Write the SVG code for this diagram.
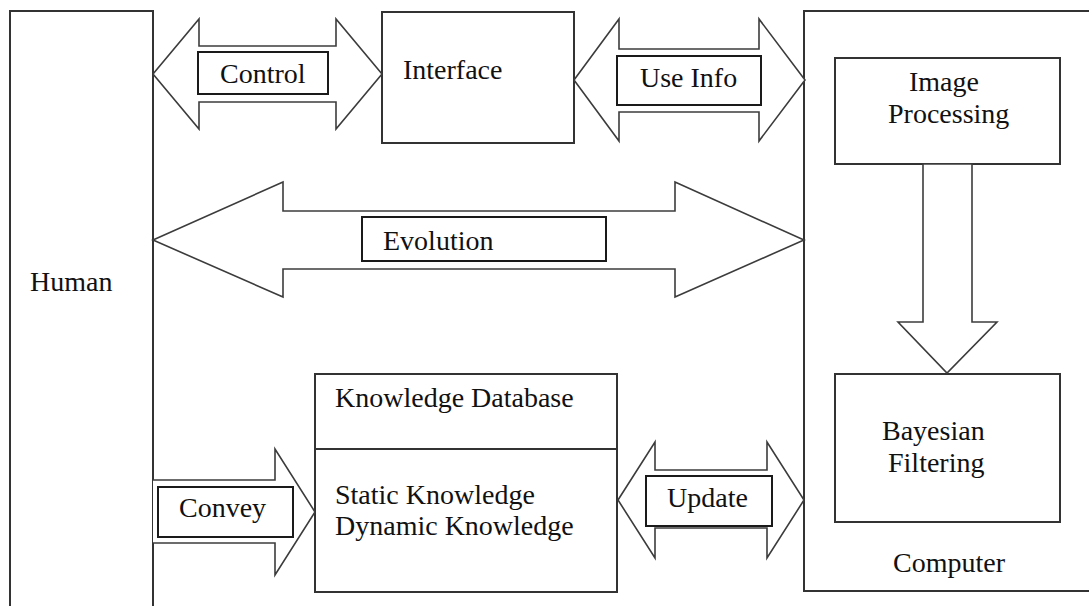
<svg xmlns="http://www.w3.org/2000/svg" width="1089" height="606" viewBox="0 0 1089 606">
  <style>
    .box { fill: #ffffff; stroke: #333333; stroke-width: 2; }
    .arrow { fill: #ffffff; stroke: #3c3c3c; stroke-width: 1.6; stroke-linejoin: miter; }
    .tag { fill: #ffffff; stroke: #1a1a1a; stroke-width: 2; }
    text { font-size: 28px; fill: #111111; }
  </style>

  <rect x="0" y="0" width="1089" height="606" fill="#ffffff"/>

  <g font-family="Liberation Serif, DejaVu Serif, serif">
  <!-- Human -->
  <g id="human">
    <rect class="box" x="10" y="11" width="143" height="610"/>
    <text x="30" y="291">Human</text>
  </g>

  <!-- Interface -->
  <g id="interface">
    <rect class="box" x="382" y="12" width="192" height="131"/>
    <text x="403" y="79">Interface</text>
  </g>

  <!-- Computer with its inner blocks -->
  <g id="computer">
    <rect class="box" x="804" y="11" width="292" height="580"/>
    <text x="893" y="572">Computer</text>
  </g>

  <g id="image-processing">
    <rect class="box" x="835" y="58" width="225" height="106"/>
    <text x="909" y="91">Image</text>
    <text x="888" y="123">Processing</text>
  </g>

  <g id="bayesian-filtering">
    <rect class="box" x="835" y="374" width="225" height="148"/>
    <text x="882" y="440">Bayesian</text>
    <text x="888" y="472">Filtering</text>
  </g>

  <!-- Knowledge database -->
  <g id="knowledge-database">
    <rect class="box" x="315" y="374" width="302" height="218"/>
    <line x1="315" y1="449" x2="617" y2="449" stroke="#333333" stroke-width="2"/>
    <text x="335" y="407">Knowledge Database</text>
    <text x="335" y="504">Static Knowledge</text>
    <text x="335" y="535">Dynamic Knowledge</text>
  </g>

  <!-- Block-arrow connectors and their labels -->
  <g id="connectors">
    <!-- Control: Human <-> Interface -->
    <path class="arrow" d="M153,74 L199,19 L199,46 L336,46 L336,19 L382,74 L336,129 L336,102 L199,102 L199,129 Z"/>
    <rect class="tag" x="198" y="52" width="130" height="42"/>
    <text x="220" y="83">Control</text>

    <!-- Use Info: Interface <-> Computer -->
    <path class="arrow" d="M574,80 L619,19 L619,49 L759,49 L759,19 L805,80 L759,141 L759,112 L619,112 L619,141 Z"/>
    <rect class="tag" x="617" y="56" width="144" height="49"/>
    <text x="640" y="87">Use Info</text>

    <!-- Evolution: Human <-> Computer -->
    <path class="arrow" d="M153,240 L283,182 L283,211 L675,211 L675,182 L804,240 L675,297 L675,269 L283,269 L283,297 Z"/>
    <rect class="tag" x="362" y="217" width="244" height="44"/>
    <text x="383" y="250">Evolution</text>

    <!-- Convey: Human -> Knowledge Database -->
    <path class="arrow" d="M153,480 L275,480 L275,449 L315,512 L275,575 L275,543 L153,543"/>
    <rect class="tag" x="158" y="487" width="135" height="50"/>
    <text x="179" y="517">Convey</text>

    <!-- Update: Knowledge Database <-> Computer -->
    <path class="arrow" d="M618,500 L655,442 L655,470 L767,470 L767,442 L804,500 L767,558 L767,528 L655,528 L655,558 Z"/>
    <rect class="tag" x="646" y="476" width="126" height="50"/>
    <text x="667" y="507">Update</text>

    <!-- Image Processing -> Bayesian Filtering -->
    <path class="arrow" d="M923,164 L923,322 L898,322 L947,373 L997,322 L972,322 L972,164 Z"/>
  </g>
  </g>
</svg>
